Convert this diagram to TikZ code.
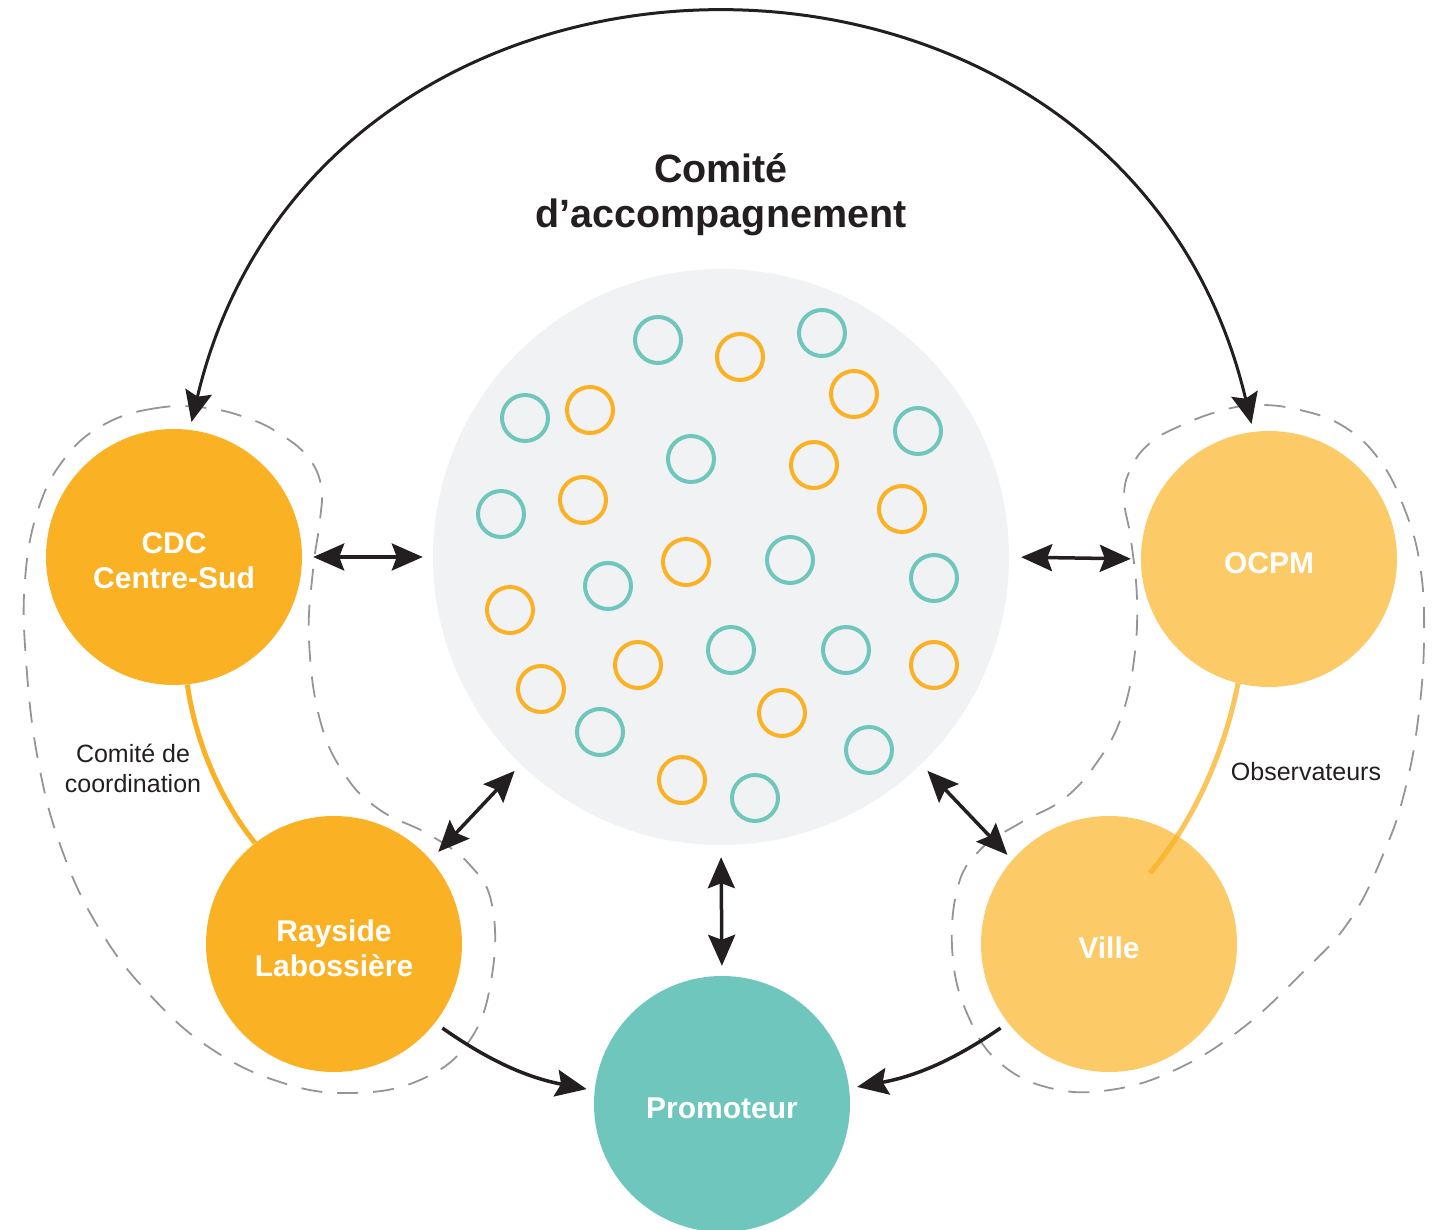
\documentclass[tikz,border=0pt]{standalone}
\usepackage{fontspec}
\setmainfont{Liberation Sans}
\usetikzlibrary{arrows.meta}
\definecolor{orA}{HTML}{FAB124}
\definecolor{orB}{HTML}{FCCA67}
\definecolor{tealC}{HTML}{6EC6BD}
\definecolor{bigfill}{HTML}{F1F2F3}
\definecolor{ink}{HTML}{231F20}
\definecolor{dashgray}{HTML}{939598}
\begin{document}
\begin{tikzpicture}[x=1pt,y=1pt,
  actor/.style={circle, minimum size=256pt, inner sep=0pt},
  actortext/.style={text=white, font=\fontsize{30}{35}\selectfont\bfseries, align=center, yshift=-4pt},
  smallc/.style={circle, draw, line width=4pt, minimum size=46pt, inner sep=0pt},
  dbl/.style={draw=ink, line width=3.5pt,
    {Stealth[length=31pt,width=27pt,inset=5pt]}-{Stealth[length=31pt,width=27pt,inset=5pt]}},
  one/.style={draw=ink, line width=3.5pt, -{Stealth[length=31pt,width=27pt,inset=5pt]}},
  zone/.style={draw=dashgray, line width=1.8pt, dash pattern=on 21pt off 15pt},
  link/.style={draw=orA, line width=5pt},
  lbl/.style={text=ink, font=\fontsize{25}{30}\selectfont, align=center}]
\useasboundingbox (0,0) rectangle (1446,-1230);

% dashed zones
\draw[zone] plot[smooth cycle, tension=0.7] coordinates {
 (207,-408) (157,-408) (105,-424) (65,-458) (38,-510) (25,-580) (26,-660)
 (38,-760) (62,-850) (100,-930) (150,-995) (210,-1048) (280,-1082) (350,-1093)
 (420,-1080) (470,-1040) (492,-975) (492,-905) (470,-865) (430,-835) (380,-810)
 (345,-775) (320,-720) (309,-640) (313,-570) (320,-520) (321,-485) (307,-456) (280,-434) (250,-419)};
\draw[zone] plot[smooth cycle, tension=0.7] coordinates {
 (1257,-405) (1300,-410) (1343,-426) (1378,-458) (1403,-505) (1420,-565) (1424,-640)
 (1418,-720) (1405,-790) (1385,-850) (1350,-920) (1300,-975) (1240,-1030)
 (1175,-1070) (1110,-1090) (1050,-1088) (1000,-1063) (970,-1020) (953,-960)
 (957,-890) (980,-850) (1020,-823) (1065,-798) (1100,-758) (1122,-715) (1134,-660)
 (1137,-600) (1131,-540) (1124,-498) (1131,-468) (1150,-443) (1180,-426) (1220,-411)};

% central committee
\node[circle, fill=bigfill, minimum size=576pt, inner sep=0pt] (big) at (721,-557) {};
\foreach \px/\py/\c [count=\i] in {
 658/340/tealC, 740/357/orA, 822/333/tealC, 854/394/orA, 918/431/tealC,
 525/418/tealC, 590/410/orA, 691/459/tealC, 814/465/orA, 902/509/orA,
 501/514/tealC, 583/500/orA, 686/562/orA, 790/560/tealC, 934/578/tealC,
 510/610/orA, 608/586/tealC, 638/665/orA, 731/650/tealC, 846/650/tealC,
 934/665/orA, 541/689/orA, 600/732/tealC, 782/713/orA, 869/750/tealC,
 682/780/orA, 755/798/tealC}
 \node[smallc, draw=\c] (s\i) at (\px,-\py) {};

\node[font=\fontsize{39.5}{45}\selectfont\bfseries, text=ink, align=center] (title) at (721,-195) {Comité\\d’accompagnement};

% actors
\node[actor, fill=orA] (cdc) at (174,-557) {};
\node[actor, fill=orB] (ocpm) at (1269,-559) {};
\node[actor, fill=orA] (ray) at (334,-944) {};
\node[actor, fill=orB] (ville) at (1109,-944) {};
\node[actor, fill=tealC] (prom) at (722,-1104) {};
\node[actortext] (cdcT) at (cdc) {CDC\\Centre-Sud};
\node[actortext] (ocpmT) at (ocpm) {OCPM};
\node[actortext] (rayT) at (ray) {Rayside\\Labossière};
\node[actortext] (villeT) at (ville) {Ville};
\node[actortext] (promT) at (prom) {Promoteur};

% committee links
\draw[link] (cdc.-84) .. controls (195,-740) and (220,-800) .. (ray.128);
\coordinate (obsend) at (1150,-873);
\draw[link, opacity=0.75] (ocpm.-104) .. controls (1225,-750) and (1195,-820) .. (obsend);
\node[lbl] (coord) at (133,-768) {Comité de\\coordination};
\node[lbl] (obs) at (1306,-772) {Observateurs};

% arrows
\draw[dbl, line width=3pt, shorten <=8pt, shorten >=8pt] (cdc.83) .. controls (320,120) and (1123,120) .. (ocpm.97);
\draw[dbl, shorten <=11pt, shorten >=10pt] (cdc.east) -- (big.west);
\draw[dbl, shorten <=12pt, shorten >=10pt] (big.east) -- (ocpm.west);
\draw[dbl, shorten <=11pt, shorten >=9pt] (ray.41) -- (big.226);
\draw[dbl, shorten <=9pt, shorten >=7pt] (big.-46) -- (ville.139);
\draw[dbl, shorten <=12pt, shorten >=10pt] (big.south) -- (prom.north);
\draw[one, shorten <=9pt, shorten >=8pt] (ray.-38) to[bend right=12] (prom.174);
\draw[one, shorten <=9pt, shorten >=8pt] (ville.-142) to[bend left=12] (prom.7);
\end{tikzpicture}
\end{document}
